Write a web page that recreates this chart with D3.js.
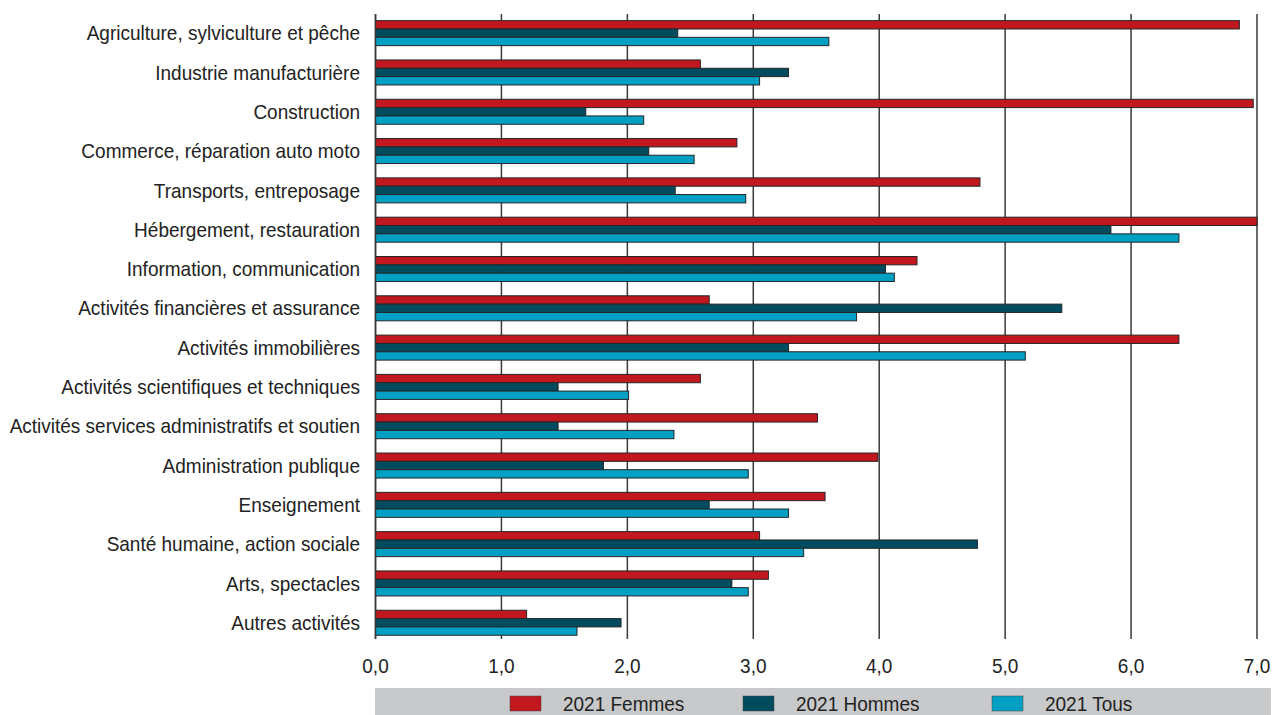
<!DOCTYPE html>
<html>
<head>
<meta charset="utf-8">
<script src="https://cdn.jsdelivr.net/npm/d3@7"></script>
<style>
  body { margin: 0; background: #fff; }
  svg text { font-family: "Liberation Sans", Arial, sans-serif; fill: #222; }
</style>
</head>
<body>
<div id="chart"></div>
<script>
// Categories, top to bottom
const categories = [
    "Agriculture, sylviculture et pêche",
    "Industrie manufacturière",
    "Construction",
    "Commerce, réparation auto moto",
    "Transports, entreposage",
    "Hébergement, restauration",
    "Information, communication",
    "Activités financières et assurance",
    "Activités immobilières",
    "Activités scientifiques et techniques",
    "Activités services administratifs et soutien",
    "Administration publique",
    "Enseignement",
    "Santé humaine, action sociale",
    "Arts, spectacles",
    "Autres activités"
];

// Series values
const femmes = [6.86, 2.58, 6.97, 2.87, 4.80, 7.00, 4.30, 2.65, 6.38, 2.58, 3.51, 3.99, 3.57, 3.05, 3.12, 1.20];
const hommes = [2.40, 3.28, 1.67, 2.17, 2.38, 5.84, 4.05, 5.45, 3.28, 1.45, 1.45, 1.81, 2.65, 4.78, 2.83, 1.95];
const tous   = [3.60, 3.05, 2.13, 2.53, 2.94, 6.38, 4.12, 3.82, 5.16, 2.01, 2.37, 2.96, 3.28, 3.40, 2.96, 1.60];

const seriesNames = ["2021 Femmes", "2021 Hommes", "2021 Tous"];
const seriesColors = ["#c1171f", "#004c5f", "#00a0c4"];
const xTicks = [0, 1, 2, 3, 4, 5, 6, 7];

const width = 1273, height = 715;
// condensed look: slightly larger font squeezed horizontally
const squeeze = "scale(0.927,1)";

const svg = d3.select("#chart")
    .append("svg")
    .attr("width", width)
    .attr("height", height);

// Scales
const x = d3.scaleLinear().domain([0, 7]).range([375.5, 1257]);
const y = d3.scaleBand().domain(categories).range([13.5, 642.4])
    .paddingInner(0.364).paddingOuter(0.182);
const ySub = d3.scaleBand().domain(seriesNames).range([0, y.bandwidth()]);

const gridTop = 14, gridBottom = 639;

// Vertical gridlines
svg.append("g")
    .selectAll("line")
    .data(xTicks)
    .enter()
    .append("line")
    .attr("x1", d => x(d))
    .attr("x2", d => x(d))
    .attr("y1", gridTop)
    .attr("y2", gridBottom)
    .attr("stroke", "#3a3a3a")
    .attr("stroke-width", 1.5);

// Bars
const rows = categories.map((c, i) => ({
    cat: c,
    values: [femmes[i], hommes[i], tous[i]]
}));

const groups = svg.append("g")
    .selectAll("g")
    .data(rows)
    .enter()
    .append("g")
    .attr("transform", d => `translate(0,${y(d.cat)})`);

groups.selectAll("rect")
    .data(d => d.values.map((v, j) => ({ name: seriesNames[j], value: v, color: seriesColors[j] })))
    .enter()
    .append("rect")
    .attr("x", x(0))
    .attr("y", d => ySub(d.name))
    .attr("width", d => x(d.value) - x(0))
    .attr("height", ySub.bandwidth())
    .attr("fill", d => d.color)
    .attr("stroke", "#262626")
    .attr("stroke-width", 1);

// Category labels
svg.append("g")
    .selectAll("text")
    .data(categories)
    .enter()
    .append("text")
    .attr("transform", d => `translate(360,${y(d) + y.bandwidth() / 2}) ${squeeze}`)
    .attr("dy", "0.35em")
    .attr("text-anchor", "end")
    .style("font-size", "20.5px")
    .text(d => d);

// Left axis line
svg.append("line")
    .attr("x1", x(0)).attr("x2", x(0))
    .attr("y1", gridTop).attr("y2", gridBottom)
    .attr("stroke", "#3a3a3a")
    .attr("stroke-width", 1.5);

// X tick labels
const fmt = d => d3.format(".1f")(d).replace(".", ",");
svg.append("g")
    .selectAll("text")
    .data(xTicks)
    .enter()
    .append("text")
    .attr("transform", d => `translate(${x(d)},666) ${squeeze}`)
    .attr("dy", "0.35em")
    .attr("text-anchor", "middle")
    .style("font-size", "20.5px")
    .text(fmt);

// Legend band
svg.append("rect")
    .attr("x", 375)
    .attr("y", 688)
    .attr("width", 896)
    .attr("height", 27)
    .attr("fill", "#c8c9cb");

const legendX = [510, 743, 992];
const legend = svg.append("g")
    .selectAll("g")
    .data(seriesNames)
    .enter()
    .append("g")
    .attr("transform", (d, i) => `translate(${legendX[i]},0)`);

legend.append("rect")
    .attr("x", 0)
    .attr("y", 696)
    .attr("width", 31)
    .attr("height", 15)
    .attr("fill", (d, i) => seriesColors[i])
    .attr("stroke", "#444")
    .attr("stroke-width", 0.5);

legend.append("text")
    .attr("transform", "translate(53,704) " + squeeze)
    .attr("dy", "0.35em")
    .style("font-size", "20.5px")
    .text(d => d);
</script>
</body>
</html>
